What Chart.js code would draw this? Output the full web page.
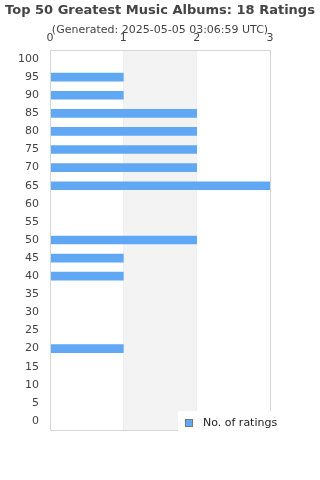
<!DOCTYPE html>
<html>
<head>
<meta charset="utf-8">
<script src="https://cdn.jsdelivr.net/npm/chart.js@4"></script>
<style>
  html, body { margin: 0; padding: 0; background: #fff; }
  #wrap { width: 320px; height: 480px; }
</style>
</head>
<body>
<div id="wrap"><canvas id="ratings-chart" width="320" height="480"></canvas></div>
<script>
// rating buckets, top to bottom
const ratingBuckets = ['100', '95', '90', '85', '80', '75', '70', '65', '60', '55', '50',
    '45', '40', '35', '30', '25', '20', '15', '10', '5', '0'];
// number of ratings in each bucket
const ratingCounts = [0, 1, 1, 2, 2, 2, 2, 3, 0, 0, 2, 1, 1, 0, 0, 0, 1, 0, 0, 0, 0];
const xTicks = [0, 1, 2, 3];

const barColor = '#60a8f4';

// shade every other band between x ticks and frame the plot
const bandsPlugin = {
    id: 'bands',
    beforeDatasetsDraw: (chart) => {
        const { ctx, chartArea, scales } = chart;
        ctx.save();
        ctx.fillStyle = '#f3f3f3';
        for (let i = 1; i < xTicks.length - 1; i += 2) {
            const x0 = scales.x.getPixelForValue(xTicks[i]);
            const x1 = scales.x.getPixelForValue(xTicks[i + 1]);
            ctx.fillRect(x0, chartArea.top, x1 - x0, chartArea.bottom - chartArea.top);
        }
        ctx.restore();
    },
    afterDraw: (chart) => {
        const { ctx, chartArea } = chart;
        ctx.save();
        ctx.strokeStyle = '#d6d6d6';
        ctx.lineWidth = 1;
        ctx.strokeRect(chartArea.left + 0.5, chartArea.top + 0.5,
            chartArea.right - chartArea.left, chartArea.bottom - chartArea.top);

        // legend sitting over the bottom right of the plot
        const ds = chart.data.datasets[0];
        ctx.fillStyle = '#fff';
        ctx.fillRect(178, chartArea.bottom - 19, 142, 30);
        ctx.fillStyle = ds.backgroundColor;
        ctx.fillRect(185.5, chartArea.bottom - 10.5, 7, 7);
        ctx.strokeStyle = '#777';
        ctx.strokeRect(185.5, chartArea.bottom - 10.5, 7, 7);
        ctx.fillStyle = '#222';
        ctx.font = '11px "DejaVu Sans"';
        ctx.textBaseline = 'middle';
        ctx.fillText(ds.label, 203, chartArea.bottom - 7);
        ctx.restore();
    }
};

new Chart(document.getElementById('ratings-chart'), {
    type: 'bar',
    data: {
        labels: ratingBuckets,
        datasets: [{
            label: 'No. of ratings',
            data: ratingCounts,
            backgroundColor: barColor,
            borderWidth: 0,
            barThickness: 8
        }]
    },
    options: {
        indexAxis: 'y',
        responsive: false,
        animation: false,
        layout: { padding: { left: 0, right: 0, top: 0, bottom: 50 } },
        font: { family: '"DejaVu Sans"' },
        plugins: {
            legend: { display: false },
            tooltip: { enabled: false },
            title: {
                display: true,
                text: 'Top 50 Greatest Music Albums: 18 Ratings',
                color: '#444',
                font: { family: '"DejaVu Sans"', size: 13, weight: 'bold' },
                padding: { top: 3, bottom: 2 }
            },
            subtitle: {
                display: true,
                text: '(Generated: 2025-05-05 03:06:59 UTC)',
                color: '#444',
                font: { family: '"DejaVu Sans"', size: 11 },
                padding: { top: 3, bottom: -7 }
            }
        },
        scales: {
            x: {
                position: 'top',
                min: 0,
                max: 3,
                afterBuildTicks: (scale) => {
                    scale.ticks = xTicks.map(v => ({ value: v }));
                },
                afterFit: (scale) => { scale.height = 20.2; },
                grid: { color: '#e2e2e2', drawTicks: false },
                border: { display: false },
                ticks: {
                    color: '#444',
                    padding: 5,
                    font: { family: '"DejaVu Sans"', size: 11 }
                }
            },
            y: {
                afterFit: (scale) => { scale.width = 50; },
                grid: { display: false, drawTicks: false },
                border: { display: false },
                ticks: {
                    color: '#444',
                    padding: 11,
                    autoSkip: false,
                    font: { family: '"DejaVu Sans"', size: 11 }
                }
            },
            // empty right axis that only reserves the right margin
            yRight: {
                type: 'linear',
                position: 'right',
                afterFit: (scale) => { scale.width = 50; },
                grid: { display: false, drawTicks: false },
                border: { display: false },
                ticks: { display: false }
            }
        }
    },
    plugins: [bandsPlugin]
});
</script>
</body>
</html>
